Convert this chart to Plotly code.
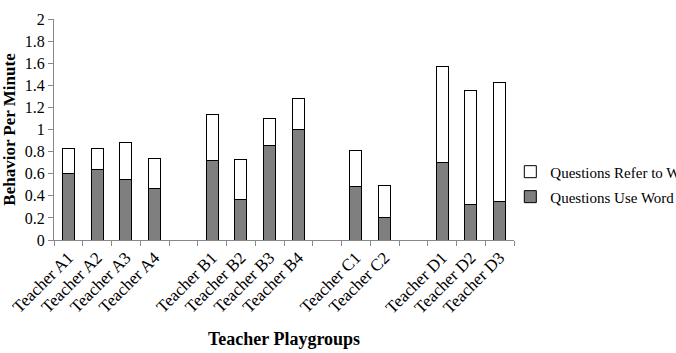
import plotly.graph_objects as go

categories = ["Teacher A1", "Teacher A2", "Teacher A3", "Teacher A4", " ",
              "Teacher B1", "Teacher B2", "Teacher B3", "Teacher B4", "  ",
              "Teacher C1", "Teacher C2", "   ",
              "Teacher D1", "Teacher D2", "Teacher D3"]
use_word = [0.605, 0.635, 0.551, 0.469, None,
            0.72, 0.363, 0.853, 1.0, None,
            0.487, 0.206, None,
            0.699, 0.321, 0.348]
total = [0.826, 0.832, 0.884, 0.741, None,
         1.135, 0.732, 1.098, 1.283, None,
         0.811, 0.496, None,
         1.570, 1.353, 1.425]
refer_word = [None if t is None else round(t - u, 3) for t, u in zip(total, use_word)]
y_ticks = [0, 0.2, 0.4, 0.6, 0.8, 1, 1.2, 1.4, 1.6, 1.8, 2]
y_labels = ["0", "0.2", "0.4", "0.6", "0.8", "1", "1.2", "1.4", "1.6", "1.8", "2"]

font = "Liberation Serif, Times New Roman, serif"

fig = go.Figure()
fig.add_trace(go.Bar(x=categories, y=use_word, name="Questions Use Word",
                     legend="legend2",
                     marker=dict(color="#7f7f7f", line=dict(color="black", width=1))))
fig.add_trace(go.Bar(x=categories, y=refer_word, name="Questions Refer to Word",
                     legend="legend",
                     marker=dict(color="white", line=dict(color="black", width=1))))

leg_common = dict(xanchor="left", yanchor="middle", font=dict(family=font, size=15),
                  bgcolor="rgba(0,0,0,0)", itemwidth=30)

fig.update_layout(
    width=676, height=353,
    barmode="stack", bargap=0.58,
    plot_bgcolor="white", paper_bgcolor="white",
    margin=dict(l=54, r=162, t=19, b=113, autoexpand=False),
    font=dict(family=font, size=13, color="black"),
    showlegend=True,
    legend=dict(x=0.992, y=0.308, **leg_common),
    legend2=dict(x=0.992, y=0.195, **leg_common),
    xaxis=dict(type="category", categoryorder="array", categoryarray=categories,
               tickangle=-45, tickson="boundaries", ticks="outside", ticklen=5,
               tickcolor="#888888", showline=True, linecolor="#888888", linewidth=1,
               showgrid=False, tickfont=dict(family=font, size=17),
               title=dict(text="<b>Teacher Playgroups</b>", font=dict(family=font, size=18), standoff=16)),
    yaxis=dict(range=[0, 2], tickvals=y_ticks, ticktext=y_labels, ticks="outside",
               ticklen=5, tickcolor="#888888", showline=True, linecolor="#888888",
               linewidth=1, showgrid=False, zeroline=False,
               tickfont=dict(family=font, size=16),
               title=dict(text="<b>Behavior Per Minute</b>", font=dict(family=font, size=17), standoff=6)),
)

fig.write_html("out.html")
